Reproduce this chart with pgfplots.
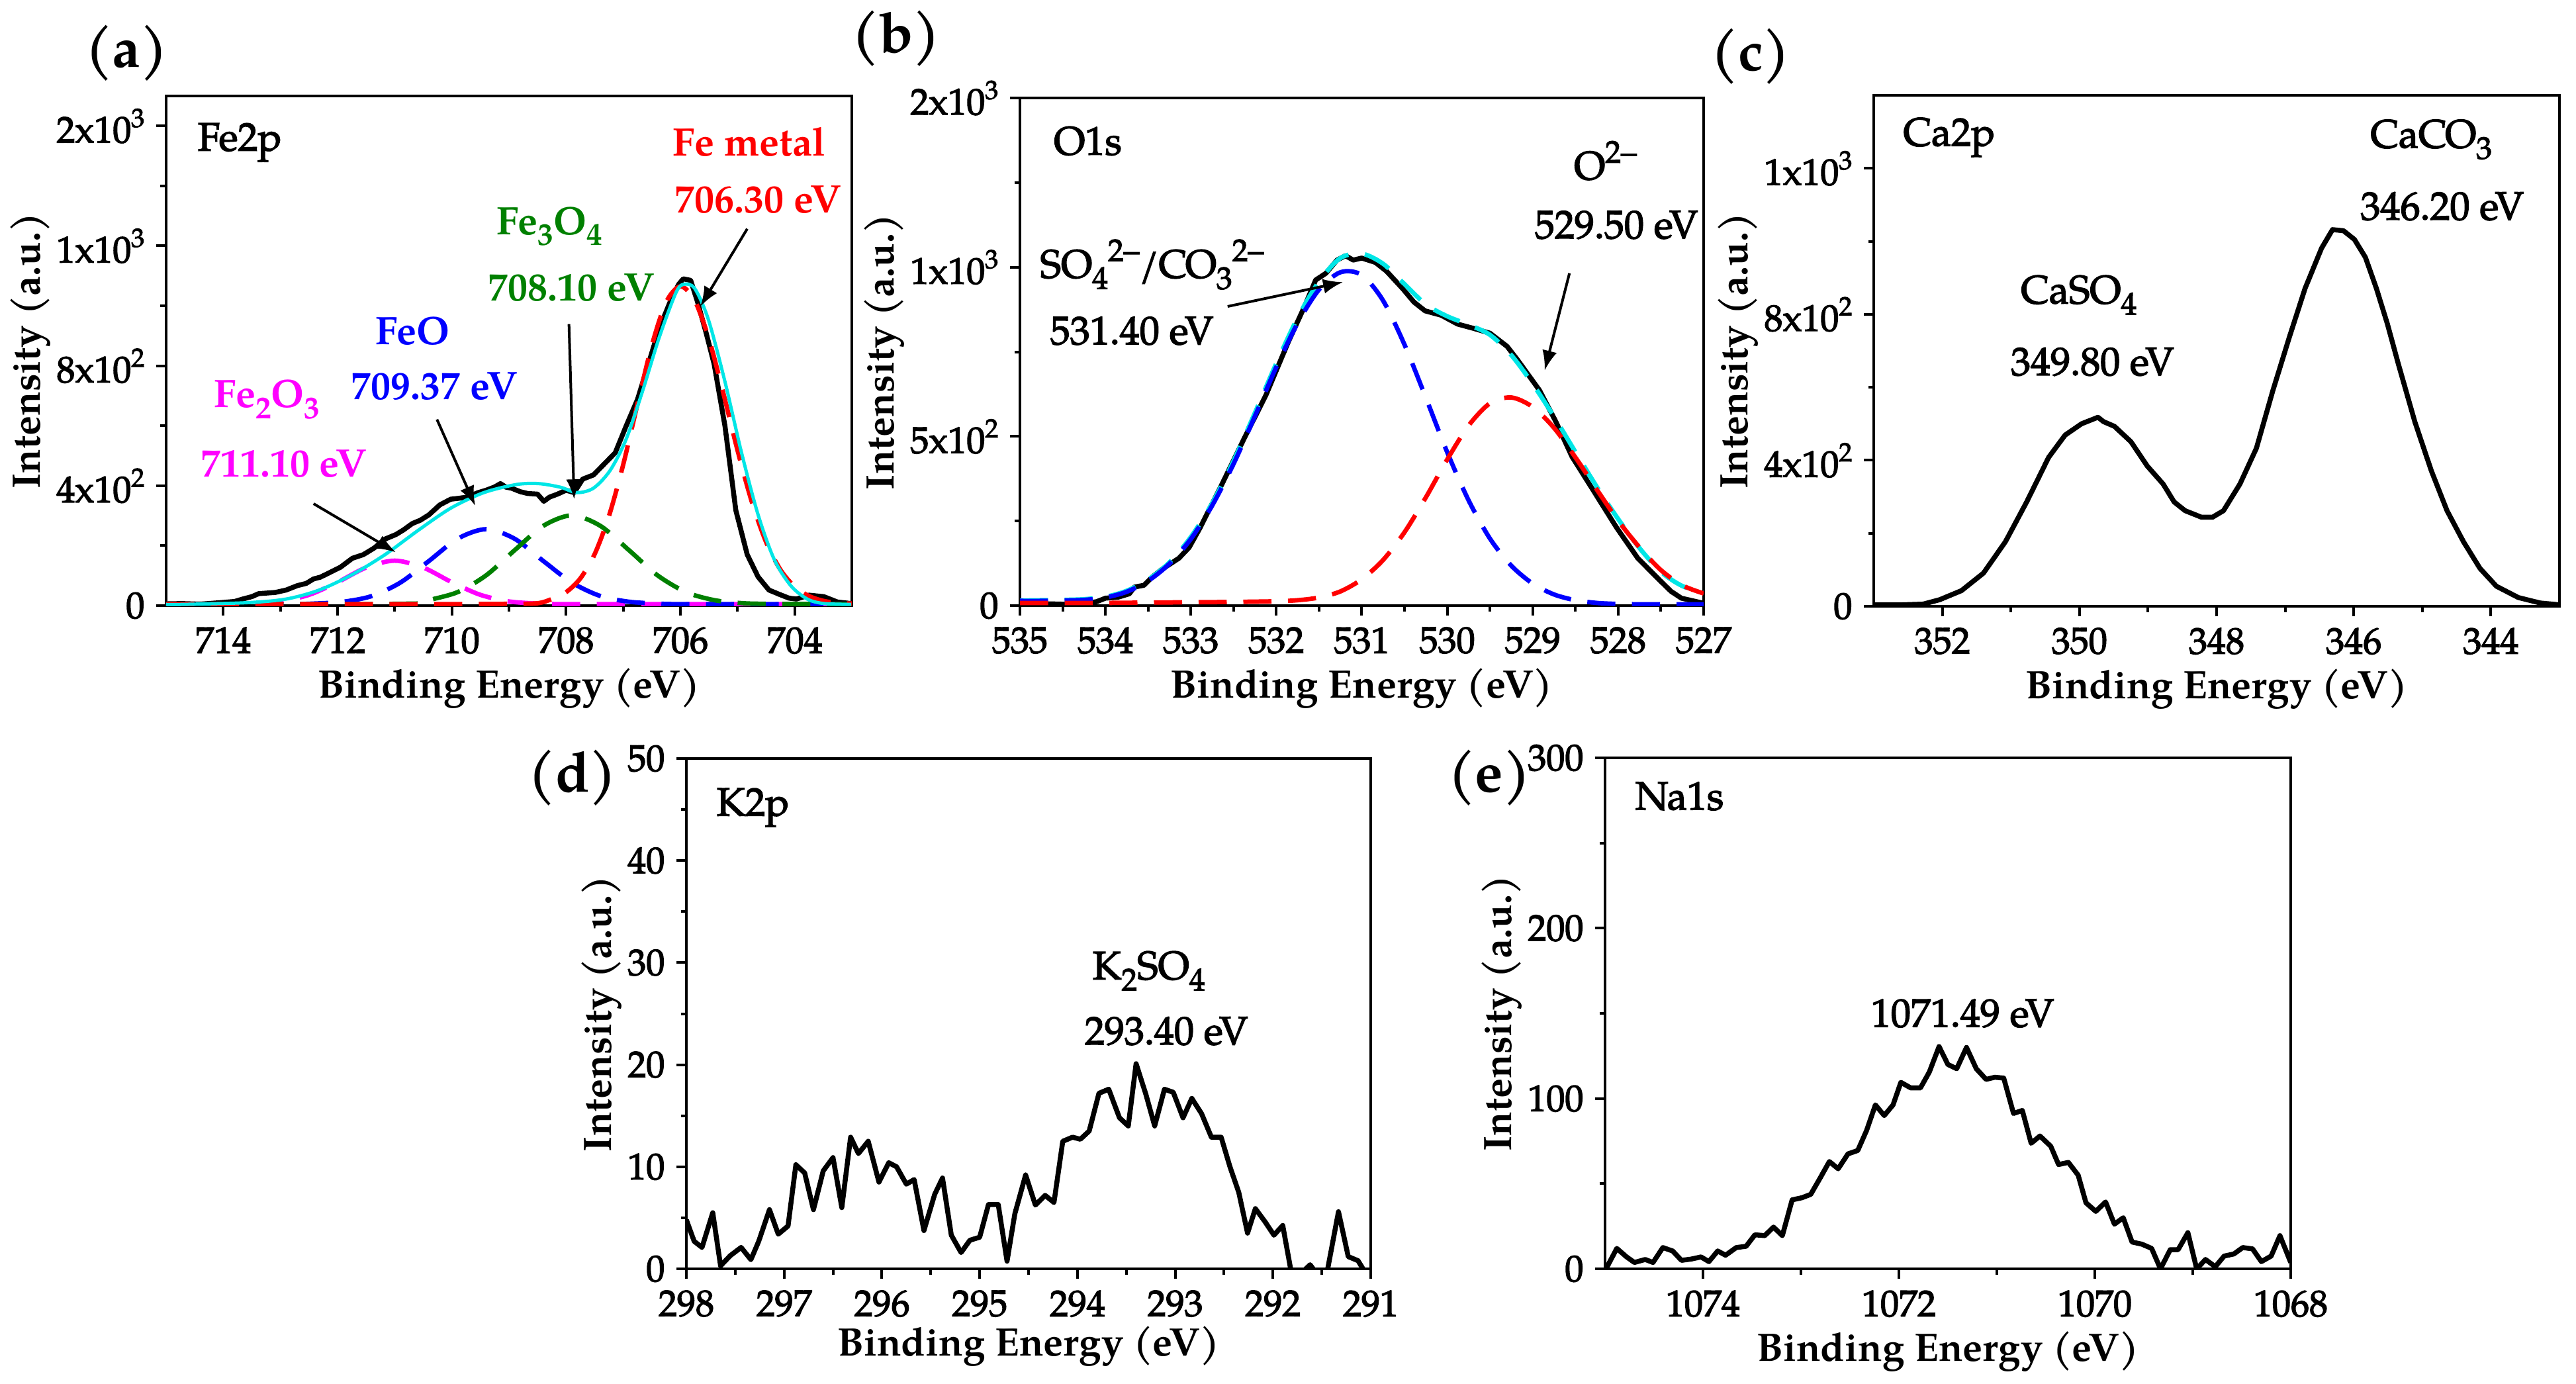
\documentclass[border=0pt]{standalone}
\usepackage{fontspec}
\setmainfont{TeX Gyre Pagella}
\newfontfamily\medfont{TeX Gyre Pagella}[FakeBold=2.5]
\usepackage{pgfplots}
\pgfplotsset{compat=1.18}
\usetikzlibrary{arrows.meta}

\definecolor{fcyan}{RGB}{0,230,230}
\definecolor{fgreen}{RGB}{0,128,0}
\definecolor{fmag}{RGB}{255,0,255}

\newcommand{\sps}[1]{\raisebox{0.42em}{\fontsize{9.5}{10}\selectfont #1}}
\newcommand{\sbs}[1]{\raisebox{-0.28em}{\fontsize{9.5}{10}\selectfont #1}}
\newcommand{\tsp}[1]{\raisebox{0.42em}{\fontsize{8}{9}\selectfont #1}}

\pgfplotsset{
  xps/.style={
    scale only axis,
    x dir=reverse,
    axis line style={line width=0.8pt},
    tick align=outside,
    tick pos=left,
    major tick length=3pt,
    minor tick length=1.7pt,
    every tick/.style={line width=0.8pt, black},
    minor x tick num=1,
    minor y tick num=1,
    tick label style={font=\medfont\fontsize{11.2}{13}\selectfont},
    /pgf/number format/assume math mode=true,
    /pgf/number format/1000 sep={},
    xlabel={Binding Energy (eV)},
    ylabel={Intensity (a.u.)},
    label style={font=\fontsize{12}{14}\selectfont\bfseries},
    ylabel shift=-5pt,
    xlabel shift=-2.5pt,
    clip=true,
  },
  dat/.style={black, line width=1.5pt, line join=round},
  comp/.style={line width=1.35pt, dash pattern=on 8.5pt off 5pt},
}
\tikzset{ann/.style={font=\medfont\fontsize{12}{14}\selectfont},
  bann/.style={font=\fontsize{12}{14}\selectfont\bfseries},
  arr/.style={-{Latex[length=6pt,width=4.5pt]}, line width=0.8pt, black}}

\begin{document}
\begin{tikzpicture}
\useasboundingbox (0,0) rectangle (778.4pt,-418pt);

% ---------------- (a) Fe2p ----------------
\begin{axis}[xps, at={(50.2pt,-29pt)}, anchor=north west,
  width=207.2pt, height=154pt,
  xmin=703, xmax=715, ymin=0, ymax=1700,
  xtick={704,706,708,710,712,714},
  ytick={0,400,800,1200,1600},
  yticklabels={0,4x10\tsp{2},8x10\tsp{2},1x10\tsp{3},2x10\tsp{3}}]
\addplot[dat] coordinates {
(715.00,6)(714.72,7)(714.40,5)(714.05,10)(713.80,14)(713.66,22)(713.50,30)(713.38,40)(713.09,44)
(712.90,52)(712.70,67)(712.55,74)(712.42,89)(712.30,95)(712.13,111)(711.95,128)(711.74,158)
(711.55,170)(711.36,192)(711.17,222)(710.98,237)(710.85,252)(710.69,274)(710.55,285)(710.40,303)
(710.21,336)(710.02,355)(709.88,358)(709.73,362)(709.54,377)(709.40,385)(709.25,396)(709.15,407)
(709.05,395)(708.96,392)(708.80,380)(708.67,374)(708.50,372)(708.39,348)(708.29,362)(708.15,372)
(708.00,385)(707.86,377)(707.71,422)(707.52,436)(707.33,473)(707.14,510)(706.95,599)(706.75,688)
(706.56,806)(706.37,925)(706.18,1013)(706.03,1072)(705.95,1090)(705.82,1085)(705.70,1013)
(705.55,910)(705.41,806)(705.22,599)(705.03,318)(704.83,170)(704.64,96)(704.45,52)(704.26,37)
(704.10,25)(703.97,22)(703.75,35)(703.49,30)(703.25,12)(703.01,7)};
\addplot[comp, fmag, smooth] coordinates {
(715,5)(714,5)(713.5,7)(713.0,14)(712.5,36)(712.0,78)(711.5,127)(711.0,150)(710.5,127)
(710.0,78)(709.5,36)(709.0,14)(708.5,7)(708,5)(706,5)(704,5)(703,5)};
\addplot[comp, blue, smooth] coordinates {
(715,5)(712.9,5)(712.4,7)(711.9,13)(711.4,32)(710.9,77)(710.4,149)(709.9,223)(709.4,255)
(708.9,223)(708.4,149)(707.9,77)(707.4,32)(706.9,13)(706.4,7)(705.9,5)(703,5)};
\addplot[comp, fgreen, smooth] coordinates {
(715,5)(711.5,5)(711,6)(710.5,8)(710.4,18)(709.9,45)(709.4,101)(708.9,185)(708.4,266)
(707.9,301)(707.4,266)(706.9,185)(706.4,101)(705.9,45)(705.4,18)(704.9,8)(704.4,6)(703,5)};
\addplot[comp, red, smooth] coordinates {
(715,5)(712,5)(710,5)(709,6)(708.5,8)(708.25,22)(708.0,45)(707.75,91)(707.5,172)(707.25,299)
(707.0,471)(706.75,673)(706.5,868)(706.25,1012)(706.0,1065)(705.75,1018)(705.5,889)(705.25,710)
(705.0,518)(704.75,346)(704.5,212)(704.25,120)(704.0,63)(703.75,32)(703.5,16)(703.25,9)(703,7)};
\addplot[fcyan, line width=1pt, smooth] coordinates {
(715,4)(714.72,4)(713.57,10)(712.90,22)(712.32,52)(711.74,104)(711.17,170)(710.59,251)(710.02,325)
(709.44,377)(708.87,404)(708.48,407)(708.10,395)(707.81,377)(707.52,392)(707.23,451)(706.95,555)
(706.66,717)(706.37,895)(706.08,1043)(705.94,1072)(705.75,1058)(705.51,954)(705.22,747)(704.93,510)
(704.64,303)(704.36,155)(704.07,67)(703.78,22)(703.49,7)(703.01,4)};
\node[ann, anchor=west] at (714.65,1545) {Fe2p};
\node[bann, text=red] at (704.79,1546) {Fe metal};
\node[bann, text=red] at (704.64,1354) {706.30 eV};
\draw[arr] (704.83,1257) -- (705.65,998);
\node[bann, text=fgreen] at (708.29,1265) {Fe\sbs{3}O\sbs{4}};
\node[bann, text=fgreen] at (707.91,1061) {708.10 eV};
\draw[arr] (707.95,939) -- (707.86,355);
\node[bann, text=blue] at (710.69,917) {FeO};
\node[bann, text=blue] at (710.31,732) {709.37 eV};
\draw[arr] (710.26,621) -- (709.59,333);
\node[bann, text=fmag] at (713.23,688) {Fe\sbs{2}O\sbs{3}};
\node[bann, text=fmag] at (712.94,473) {711.10 eV};
\draw[arr] (712.42,340) -- (710.98,178);
\end{axis}

% ---------------- (b) O1s ----------------
\begin{axis}[xps, at={(308.2pt,-29.6pt)}, anchor=north west,
  width=206.6pt, height=153.4pt,
  xmin=527, xmax=535, ymin=0, ymax=1500,
  xtick={527,528,...,535},
  ytick={0,500,1000,1500},
  yticklabels={0,5x10\tsp{2},1x10\tsp{3},2x10\tsp{3}}]
\addplot[dat] coordinates {
(535.0,7)(534.6,5)(534.3,3)(534.1,12)(534.0,22)(533.85,25)(533.72,35)(533.66,55)(533.55,60)
(533.45,85)(533.34,107)(533.14,140)(533.02,172)(532.89,231)(532.63,362)(532.38,492)(532.12,623)
(531.86,779)(531.67,884)(531.54,962)(531.42,982)(531.29,1021)(531.19,1034)(531.10,1021)(531.00,1027)
(530.84,1014)(530.71,988)(530.52,936)(530.39,897)(530.26,871)(530.07,858)(529.88,832)(529.69,819)
(529.50,805)(529.30,766)(529.18,727)(528.92,636)(528.73,544)(528.54,440)(528.28,336)(528.02,231)
(527.77,140)(527.51,74)(527.38,42)(527.26,22)(527.0,7)};
\addplot[comp, fcyan, smooth] coordinates {
(535.00,15)(534.75,16)(534.50,17)(534.25,19)(534.00,26)(533.75,44)(533.50,77)(533.25,128)
(533.00,203)(532.75,303)(532.50,428)(532.25,570)(532.00,716)(531.75,851)(531.50,958)(531.25,1027)
(531.00,1040)(530.75,1010)(530.50,950)(530.25,890)(530.00,855)(529.75,830)(529.50,800)(529.25,740)
(529.00,655)(528.75,558)(528.50,454)(528.25,351)(528.00,256)(527.75,170)(527.50,100)(527.25,58)(527.00,38)};
\addplot[comp, blue, smooth] coordinates {
(535.00,14)(534.75,14)(534.50,15)(534.25,17)(534.00,24)(533.75,41)(533.50,73)(533.25,124)
(533.00,197)(532.75,296)(532.50,419)(532.25,560)(532.00,705)(531.75,835)(531.50,934)(531.25,985)
(531.00,977)(530.75,901)(530.50,771)(530.25,614)(530.00,453)(529.75,311)(529.50,198)(529.25,118)
(529.00,65)(528.75,33)(528.50,16)(528.25,8)(528.00,5)(527.75,4)(527.50,4)(527.25,4)(527.00,4)};
\addplot[comp, red, smooth] coordinates {
(535.00,8)(534.50,8)(534.00,8)(533.50,9)(533.00,10)(532.50,11)(532.00,13)(531.75,16)(531.50,24)
(531.25,42)(531.00,78)(530.75,135)(530.50,217)(530.25,320)(530.00,432)(529.75,532)(529.50,598)
(529.25,615)(529.00,587)(528.75,525)(528.50,438)(528.25,343)(528.00,251)(527.75,172)(527.50,105)
(527.25,60)(527.00,36)};
\node[ann, anchor=west] at (534.74,1373) {O1s};
\node[ann] at (528.15,1315) {O\sps{2\textendash}};
\node[ann] at (528.02,1125) {529.50 eV};
\draw[arr] (528.57,982) -- (528.86,695);
\node[ann, anchor=west] at (534.9,1008) {SO\sbs{4}\sps{2\textendash}/CO\sbs{3}\sps{2\textendash}};
\node[ann] at (533.69,812) {531.40 eV};
\draw[arr] (532.57,884) -- (531.22,956);
\end{axis}

% ---------------- (c) Ca2p ----------------
\begin{axis}[xps, at={(566.2pt,-28.8pt)}, anchor=north west,
  width=207.2pt, height=154.4pt,
  xmin=343, xmax=353, ymin=0, ymax=1400,
  xtick={344,346,348,350,352},
  ytick={0,400,800,1200},
  yticklabels={0,4x10\tsp{2},8x10\tsp{2},1x10\tsp{3}}]
\addplot[dat] coordinates {
(353.01,4)(352.60,4)(352.28,6)(352.04,18)(351.72,43)(351.40,91)(351.08,177)(350.77,286)(350.45,408)
(350.21,469)(349.97,500)(349.81,512)(349.73,518)(349.65,506)(349.49,493)(349.25,451)(349.01,384)
(348.78,335)(348.62,286)(348.46,262)(348.22,244)(348.06,244)(347.90,262)(347.66,335)(347.42,433)
(347.18,591)(346.94,737)(346.71,871)(346.47,981)(346.31,1032)(346.15,1029)(345.99,1005)(345.83,956)
(345.67,871)(345.51,774)(345.35,664)(345.11,506)(344.87,372)(344.64,262)(344.40,177)(344.16,104)
(343.92,55)(343.60,24)(343.28,9)(342.99,4)};
\node[ann, anchor=west] at (352.74,1285) {Ca2p};
\node[ann] at (344.87,1279) {CaCO\sbs{3}};
\node[ann] at (344.71,1096) {346.20 eV};
\node[ann] at (350.01,853) {CaSO\sbs{4}};
\node[ann] at (349.81,670) {349.80 eV};
\end{axis}

% ---------------- (d) K2p ----------------
\begin{axis}[xps, at={(207.4pt,-229.2pt)}, anchor=north west,
  width=206.8pt, height=154.2pt,
  xmin=291, xmax=298, ymin=0, ymax=50,
  xtick={291,292,...,298},
  ytick={0,10,20,30,40,50}, xlabel shift=-4pt]
\addplot[dat] coordinates {
(298.00,4.8)(297.92,2.7)(297.84,2.1)(297.73,5.5)(297.65,0.3)(297.55,1.3)(297.44,2.1)(297.34,0.9)
(297.26,2.7)(297.15,5.8)(297.06,3.4)(296.96,4.2)(296.88,10.2)(296.79,9.4)(296.70,5.8)(296.60,9.6)
(296.50,10.9)(296.41,6.0)(296.32,12.9)(296.24,11.3)(296.14,12.5)(296.03,8.5)(295.93,10.4)(295.85,10.0)
(295.75,8.3)(295.67,8.75)(295.57,3.75)(295.46,7.3)(295.38,8.9)(295.29,3.3)(295.19,1.6)(295.10,2.8)
(295.00,3.1)(294.91,6.3)(294.81,6.3)(294.72,0.75)(294.64,5.4)(294.53,9.2)(294.43,6.25)(294.33,7.2)
(294.24,6.5)(294.15,12.5)(294.05,12.9)(293.97,12.7)(293.88,13.5)(293.78,17.2)(293.68,17.6)(293.57,14.8)
(293.48,14.0)(293.40,20.1)(293.30,17.1)(293.21,14.0)(293.11,17.6)(293.02,17.3)(292.92,14.8)(292.83,16.7)
(292.73,15.2)(292.63,12.9)(292.53,12.9)(292.44,10.0)(292.35,7.5)(292.26,3.5)(292.18,5.9)(292.08,4.6)
(291.99,3.3)(291.90,4.25)(291.81,-0.5)(291.72,-0.5)(291.62,0.4)(291.55,-0.5)(291.45,-0.5)(291.33,5.6)
(291.23,1.2)(291.13,0.8)(291.06,-0.3)(291.0,-0.3)};
\node[ann, anchor=west] at (297.81,45.2) {K2p};
\node[ann] at (293.27,29.2) {K\sbs{2}SO\sbs{4}};
\node[ann] at (293.09,23.3) {293.40 eV};
\end{axis}

% ---------------- (e) Na1s ----------------
\begin{axis}[xps, at={(485pt,-229pt)}, anchor=north west,
  width=207.2pt, height=154.4pt,
  xmin=1068, xmax=1075, ymin=0, ymax=300,
  xtick={1068,1070,1072,1074},
  ytick={0,100,200,300}]
\addplot[dat] coordinates {
(1074.99,0)(1074.88,12)(1074.78,7)(1074.70,3.75)(1074.59,5.5)(1074.51,3.75)(1074.41,12.5)(1074.31,10.5)
(1074.22,5)(1074.12,5.75)(1074.02,7)(1073.94,4.25)(1073.85,10.5)(1073.77,8)(1073.66,12.5)(1073.56,13.25)
(1073.47,20)(1073.37,19.5)(1073.28,24.5)(1073.19,19.5)(1073.09,40.5)(1072.99,41.75)(1072.90,43.75)
(1072.80,53.75)(1072.71,63)(1072.62,58.75)(1072.52,67.5)(1072.42,69.5)(1072.33,81.25)(1072.24,96.25)
(1072.15,90)(1072.06,96.25)(1071.98,109.5)(1071.88,106.25)(1071.78,106.25)(1071.69,115.5)(1071.59,130.5)
(1071.50,120)(1071.41,117.5)(1071.31,130)(1071.21,117.5)(1071.11,111.25)(1071.02,112.5)(1070.93,112)
(1070.83,91.25)(1070.74,93)(1070.65,73.75)(1070.56,78)(1070.45,72)(1070.37,61.25)(1070.27,62.5)
(1070.17,55)(1070.09,38.75)(1069.99,33.75)(1069.89,39.25)(1069.80,26.25)(1069.71,30)(1069.62,15.75)
(1069.52,14.5)(1069.42,12)(1069.33,0)(1069.23,11.25)(1069.15,11.25)(1069.05,21.25)(1068.96,0)
(1068.87,5.5)(1068.77,1.25)(1068.68,7.5)(1068.58,8.75)(1068.49,12.5)(1068.39,11.75)(1068.30,4.25)
(1068.20,7.5)(1068.11,19.5)(1068.00,3.75)};
\node[ann, anchor=west] at (1074.81,277.5) {Na1s};
\node[ann] at (1071.35,150) {1071.49 eV};
\end{axis}

% panel labels
\node[font=\fontsize{17}{20}\selectfont\bfseries] at (38.2pt,-16pt) {(a)};
\node[font=\fontsize{17}{20}\selectfont\bfseries] at (270.8pt,-11.6pt) {(b)};
\node[font=\fontsize{17}{20}\selectfont\bfseries] at (529pt,-17pt) {(c)};
\node[font=\fontsize{17}{20}\selectfont\bfseries] at (173pt,-235pt) {(d)};
\node[font=\fontsize{17}{20}\selectfont\bfseries] at (450pt,-235pt) {(e)};
\end{tikzpicture}
\end{document}
